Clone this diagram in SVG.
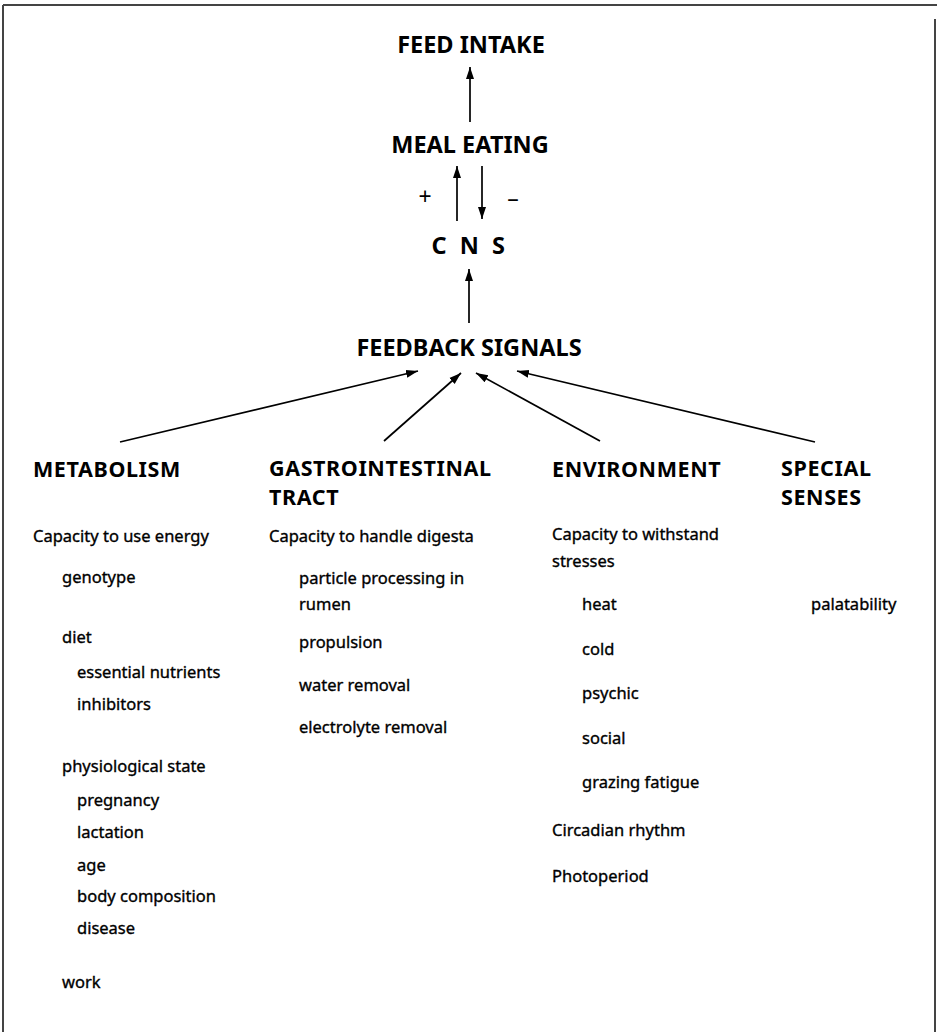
<svg xmlns="http://www.w3.org/2000/svg" width="937" height="1032" viewBox="0 0 937 1032">
<defs>
<marker id="ah" viewBox="0 0 12 10" refX="12" refY="5" markerWidth="12" markerHeight="10" markerUnits="userSpaceOnUse" orient="auto">
<path d="M0,1 L12,5 L0,9 Z" fill="#000"/>
</marker>
<style>
.h{font-family:"Noto Sans","Liberation Sans",sans-serif;font-weight:bold;font-size:21.5px;letter-spacing:0.6px;fill:#000}
.top{font-size:23.5px;letter-spacing:0}
.t{font-family:"Noto Sans","Liberation Sans",sans-serif;font-size:16.5px;fill:#000;stroke:#000;stroke-width:0.35}
.s{font-family:"Noto Sans","Liberation Sans",sans-serif;font-size:23px;fill:#000}
.c{stroke:#000;stroke-width:1.7;fill:none;marker-end:url(#ah)}
.b{stroke:#444;stroke-width:2;fill:none}
</style>
</defs>
<rect width="937" height="1032" fill="#fff"/>
<g id="border">
<path class="b" d="M3,5 H937 M3,5 V1032 M935,19 V1032"/>
</g>
<g id="feed-intake"><text class="h top" x="471" y="53" text-anchor="middle">FEED INTAKE</text></g>
<g id="meal-eating"><text class="h top" x="470" y="153" text-anchor="middle">MEAL EATING</text></g>
<g id="cns"><text class="h top" x="470" y="254" text-anchor="middle" style="letter-spacing:3.5px">C N S</text></g>
<g id="feedback"><text class="h top" x="469" y="356" text-anchor="middle">FEEDBACK SIGNALS</text></g>
<g id="connectors">
<line class="c" x1="470" y1="122" x2="470" y2="67"/>
<line class="c" x1="457" y1="221" x2="457" y2="166"/>
<line class="c" x1="482" y1="166" x2="482" y2="219"/>
<line class="c" x1="469" y1="323" x2="469" y2="269"/>
<line class="c" x1="120" y1="442" x2="418" y2="371"/>
<line class="c" x1="384" y1="441" x2="461" y2="373"/>
<line class="c" x1="600" y1="441" x2="476" y2="373"/>
<line class="c" x1="815" y1="442" x2="517" y2="371"/>
<text class="s" x="425" y="205" text-anchor="middle">+</text>
<text class="s" x="513" y="206" text-anchor="middle">–</text>
</g>
<g id="metabolism">
<text class="h" x="33" y="477">METABOLISM</text>
<text class="t" x="33" y="542">Capacity to use energy</text>
<text class="t" x="62" y="583">genotype</text>
<text class="t" x="62" y="643">diet</text>
<text class="t" x="77" y="678">essential nutrients</text>
<text class="t" x="77" y="710">inhibitors</text>
<text class="t" x="62" y="772">physiological state</text>
<text class="t" x="77" y="806">pregnancy</text>
<text class="t" x="77" y="838">lactation</text>
<text class="t" x="77" y="871">age</text>
<text class="t" x="77" y="902">body composition</text>
<text class="t" x="77" y="934">disease</text>
<text class="t" x="62" y="988">work</text>
</g>
<g id="gastrointestinal">
<text class="h" x="269" y="476">GASTROINTESTINAL</text>
<text class="h" x="269" y="505">TRACT</text>
<text class="t" x="269" y="542">Capacity to handle digesta</text>
<text class="t" x="299" y="584">particle processing in</text>
<text class="t" x="299" y="610">rumen</text>
<text class="t" x="299" y="648">propulsion</text>
<text class="t" x="299" y="691">water removal</text>
<text class="t" x="299" y="733">electrolyte removal</text>
</g>
<g id="environment">
<text class="h" x="552" y="477">ENVIRONMENT</text>
<text class="t" x="552" y="540">Capacity to withstand</text>
<text class="t" x="552" y="567">stresses</text>
<text class="t" x="582" y="610">heat</text>
<text class="t" x="582" y="655">cold</text>
<text class="t" x="582" y="699">psychic</text>
<text class="t" x="582" y="744">social</text>
<text class="t" x="582" y="788">grazing fatigue</text>
<text class="t" x="552" y="836">Circadian rhythm</text>
<text class="t" x="552" y="882">Photoperiod</text>
</g>
<g id="special-senses">
<text class="h" x="781" y="476">SPECIAL</text>
<text class="h" x="781" y="505">SENSES</text>
<text class="t" x="811" y="610">palatability</text>
</g>
</svg>
